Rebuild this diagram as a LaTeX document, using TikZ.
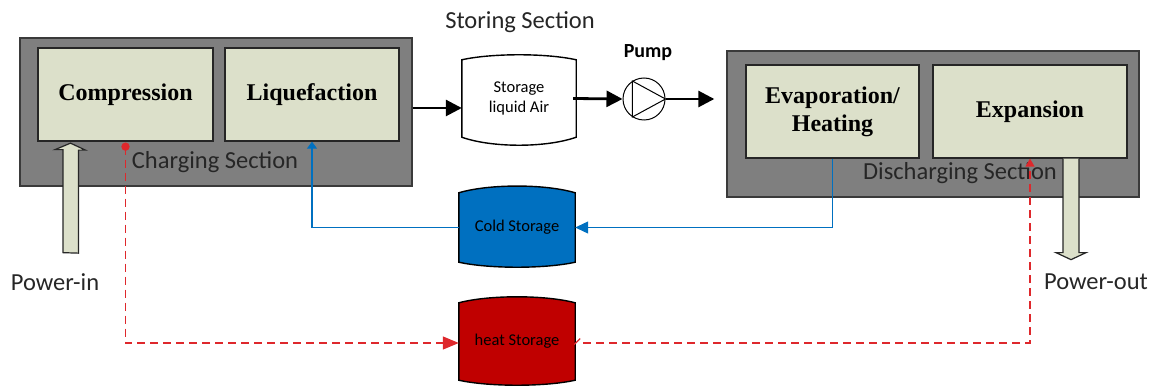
\documentclass[tikz,border=0pt]{standalone}
\usepackage{fontspec}
\setmainfont{Liberation Serif}
\newfontfamily\calfont{Carlito}
\usetikzlibrary{arrows.meta,calc,backgrounds}

\definecolor{secgray}{HTML}{7F7F7F}
\definecolor{secedge}{HTML}{3A3A3A}
\definecolor{unitfill}{HTML}{DCE0CA}
\definecolor{unitedge}{HTML}{262626}
\definecolor{coldblue}{HTML}{0070C0}
\definecolor{heatred}{HTML}{C00000}
\definecolor{heatline}{RGB}{222,40,44}

\tikzset{
  section/.style={draw=secedge, fill=secgray, line width=1.4pt, inner sep=0pt},
  unit/.style={draw=unitedge, fill=unitfill, line width=1.3pt, inner sep=0pt,
    align=center, font=\fontsize{24}{28}\selectfont\bfseries},
  seclabel/.style={font=\calfont\fontsize{24.5}{28}\selectfont, text=black!85},
  tanklabel/.style={inner sep=0pt, align=center, font=\calfont\fontsize{16.5}{20}\selectfont},
  flow/.style={line width=2.8pt, -{Triangle[length=16pt,width=16pt]}},
  coldflow/.style={draw=coldblue, line width=1.2pt},
  heatflow/.style={draw=heatline, line width=1.3pt, dash pattern=on 8pt off 5pt},
  blockarrow/.style={draw=unitedge, fill=unitfill, line width=1.2pt, line join=miter},
}

% outline of a storage vessel with curved top and bottom
\newcommand\vesseloutline[4]{%
  \draw[#2, line width=1.4pt]
    (#1.north west) .. controls ($(#1.north west)+(30,-#3)$) and ($(#1.north east)+(-30,-#3)$) .. (#1.north east)
    -- (#1.south east)
    .. controls ($(#1.south east)+(-30,#4)$) and ($(#1.south west)+(30,#4)$) .. (#1.south west)
    -- cycle;}

\begin{document}
\begin{tikzpicture}[x=1pt,y=-1pt]
\useasboundingbox (0,0) rectangle (1153,387);

% sections
\node[section, minimum width=392, minimum height=148] (charge) at (216,112) {};
\node[section, minimum width=412, minimum height=146] (discharge) at (933,124) {};

% process units
\node[unit, minimum width=175, minimum height=93] (comp) at (125.5,94.5) {Compression};
\node[unit, minimum width=174, minimum height=93] (liq) at (312,94.5) {Liquefaction};
\node[unit, minimum width=173, minimum height=93] (evap) at (832.5,111.5) {Evaporation/\\Heating};
\node[unit, minimum width=194, minimum height=93] (exp) at (1030,111.5) {Expansion};

% section labels
\node[seclabel] (chargelbl) at (215,162) {Charging Section};
\node[seclabel] (dischargelbl) at (960,173) {Discharging Section};
\node[seclabel] (storelbl) at (520,22) {Storing Section};

% storage vessels
\node[tanklabel, minimum width=114, minimum height=77] (tank) at (519,98.5) {Storage\\liquid Air};
\node[tanklabel, minimum width=116, minimum height=69] (cold) at (517,227.5) {Cold Storage};
\node[tanklabel, minimum width=116, minimum height=77] (heat) at (517,341.5) {heat Storage};
\begin{scope}[on background layer]
  \vesseloutline{tank}{draw=black, fill=white}{6.7}{10.7}
  \vesseloutline{cold}{draw=black, fill=coldblue}{9}{6.7}
  \vesseloutline{heat}{draw=black, fill=heatred}{8}{6.7}
\end{scope}

% pump
\node[draw, circle, minimum size=42, inner sep=0pt, line width=1pt] (pump) at (644,99) {};
\draw[line width=1pt, line join=miter] (pump.123) -- (pump.east) -- (pump.-123) -- cycle;
\node[font=\calfont\bfseries\fontsize{20}{24}\selectfont] (pumplbl) at (648,53) {Pump};

% main liquid air path
\draw[flow] ($(charge.east |- tank.west)+(0,9.5)$) -- ($(tank.west)+(0,9.5)$);
\draw[flow] ([xshift=-3pt]tank.east) -- (pump.west);
\draw[flow, shorten >=12pt] (pump.east) -- (discharge.west |- pump.east);

% cold recovery loop
\draw[coldflow, -{Triangle[length=13pt,width=12pt]}] (evap.south) |- (cold.east);
\draw[coldflow, -{Triangle[length=7pt,width=10pt]}] (cold.west) -| (liq.south);

% heat recovery loop
\coordinate (heatsrc) at ($(comp.south)+(0,5)$);
\fill[heatline] (heatsrc) circle (4.2pt);
\draw[heatflow, -{Triangle[length=16pt,width=13pt]}] (heatsrc) |- ($(heat.west)+(0,1.5)$);
\draw[heatline, line width=1.2pt] ($(heat.east)+(-1,3)$) -- ++(6,-6);
\draw[heatflow, -{Triangle[length=8pt,width=9pt]}] ($(heat.east)+(8,1.5)$) -| (exp.south);

% power input and output
\node[seclabel] (powin) at (55,282) {Power-in};
\node[seclabel] (powout) at (1096,282) {Power-out};
\draw[blockarrow] ($(comp.south)+(-62.5,111)$) -- ++(0,-103) -- ++(-8,0)
  -- ($(comp.south)+(-55,1.5)$) -- ++(15,7) -- ++(-7,0) -- ++(0,103) -- cycle;
\draw[blockarrow] ($(exp.south)+(33,0)$) -- ++(0,94) -- ++(-7,0)
  -- ++(15,7) -- ++(15,-7) -- ++(-7,0) -- ++(0,-94);

\end{tikzpicture}
\end{document}
